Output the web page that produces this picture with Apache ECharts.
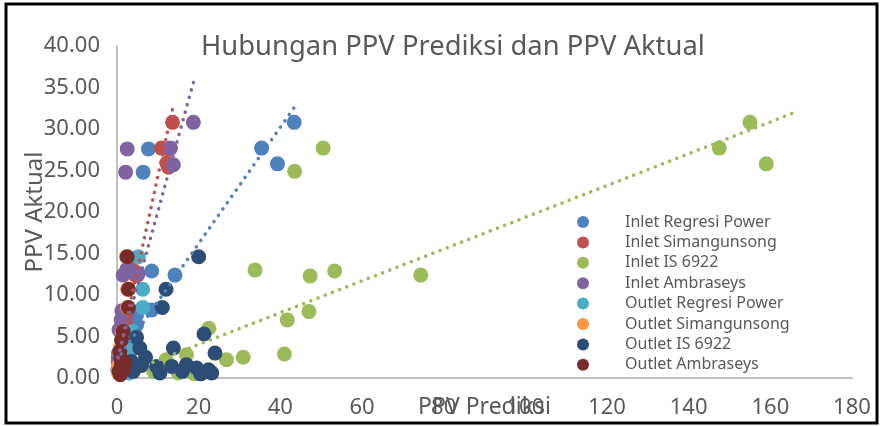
<!DOCTYPE html>
<html>
<head>
<meta charset="utf-8">
<script src="https://cdn.jsdelivr.net/npm/echarts@6/dist/echarts.min.js"></script>
<style>
html, body { margin: 0; padding: 0; background: #fff; }
#chart { width: 882px; height: 426px; }
</style>
</head>
<body>
<div id="chart"></div>
<script>
// data: [PPV prediksi, PPV aktual]
var inletRegresiPower = [[43.4,30.8],[35.4,27.7],[39.3,25.8],[7.7,27.6],[6.4,24.8],[8.5,12.9],[14.2,12.4],[8.5,8.2],[4.8,7.6],[4.8,6.4],[4.0,5.0],[3.0,3.0],[2.5,2.2],[1.5,1.2]];
var inletSimangunsong = [[13.6,30.8],[10.9,27.7],[12.2,25.9],[12.6,27.6],[12.6,25.4],[3.5,13.1],[4.5,12.4],[4.2,12.9],[5.0,12.4],[2.0,7.0],[2.5,8.1],[1.8,6.0],[1.0,2.9],[0.8,2.5],[0.6,2.0],[0.9,3.0],[0.5,1.5],[0.3,1.0]];
var inletIS6922 = [[155,30.8],[147.5,27.7],[159,25.8],[50.5,27.7],[43.5,24.9],[33.8,13.0],[47.3,12.3],[53.3,12.9],[74.4,12.4],[41.7,7.0],[47,8.0],[22.5,6.0],[41,2.9],[30.9,2.5],[26.8,2.2],[12,2.2],[9,0.8],[15,0.6],[19,0.5],[23,0.7],[17,2.8]];
var inletAmbraseys = [[18.7,30.8],[13.1,27.7],[13.8,25.7],[2.5,27.6],[2.1,24.8],[2.4,13.1],[5.2,12.6],[3.8,12.8],[1.5,12.4],[1.0,7.0],[1.2,8.1],[0.5,5.8],[0.4,2.9],[0.3,2.5],[0.3,2.0],[0.4,3.0],[0.2,1.0]];
var outletRegresiPower = [[5.2,14.6],[6.3,10.7],[6.3,8.5],[3.9,5.6],[3.0,3.6],[2.5,3.0],[2.0,1.6],[1.8,1.4],[2.2,1.2],[2.6,1.0],[1.5,0.8],[3.0,0.6]];
var outletSimangunsong = [[2.3,14.6],[2.6,10.7],[2.6,8.5],[1.3,5.5],[0.8,3.6],[0.7,3.0],[0.5,1.6],[0.5,1.4],[0.6,1.2],[0.4,1.0],[0.3,0.8],[0.4,0.6]];
var outletIS6922 = [[20,14.6],[12,10.7],[11.1,8.5],[21.3,5.3],[13.8,3.6],[24,3.0],[17,1.6],[13.4,1.4],[19.5,1.2],[22.4,1.0],[9.7,1.4],[23.2,0.6],[4.8,4.9],[5.6,3.6],[4.0,0.8],[7,2.5],[6,1.5],[16,0.8],[20.5,0.5],[10.5,0.6],[3.5,2.0]];
var outletAmbraseys = [[2.5,14.6],[2.8,10.7],[2.8,8.5],[1.5,5.6],[1.1,4.6],[0.7,3.2],[1.1,1.6],[1.5,0.9],[0.9,2.4],[2.0,1.8],[0.5,0.8],[0.8,0.4]];

// linear trendlines (start and end point)
var trendRegresiPower = [[1.0, 2.9], [43.4, 32.6]];
var trendSimangunsong = [[0.3, 2.4], [13.6, 32.4]];
var trendIS6922 = [[8.8, 1.9], [166, 32.0]];
var trendAmbraseys = [[0.2, 2.5], [18.7, 35.6]];

var seriesNames = ['Inlet Regresi Power', 'Inlet Simangunsong', 'Inlet IS 6922', 'Inlet Ambraseys',
    'Outlet Regresi Power', 'Outlet Simangunsong', 'Outlet IS 6922', 'Outlet Ambraseys'];
var seriesData = [inletRegresiPower, inletSimangunsong, inletIS6922, inletAmbraseys,
    outletRegresiPower, outletSimangunsong, outletIS6922, outletAmbraseys];
var colors = ['#4F81BD', '#C0504D', '#9BBB59', '#8064A2', '#4BACC6', '#F79646', '#2C4D75', '#772C2A'];
var trends = [trendRegresiPower, trendSimangunsong, trendIS6922, trendAmbraseys];

var textColor = '#595959';
var font = 'Noto Sans';

var series = [];
for (var i = 0; i < seriesData.length; i++) {
    series.push({
        name: seriesNames[i],
        type: 'scatter',
        symbol: 'circle',
        symbolSize: 15,
        z: 2,
        itemStyle: { color: colors[i], opacity: 1 },
        data: seriesData[i]
    });
}
// trendlines for inlet series
for (var j = 0; j < trends.length; j++) {
    series.push({
        name: 'trend' + j,
        type: 'line',
        showSymbol: false,
        silent: true,
        z: 3,
        lineStyle: { color: colors[j], width: 3.5, type: [0.1, 7.6], cap: 'round' },
        data: trends[j]
    });
}

var option = {
    backgroundColor: '#fff',
    animation: false,
    textStyle: { fontFamily: font },
    title: {
        text: 'Hubungan PPV Prediksi dan PPV Aktual',
        left: 196,
        top: 29,
        textStyle: { fontFamily: font, fontSize: 27.4, fontWeight: 'normal', color: textColor }
    },
    legend: {
        data: seriesNames,
        orient: 'vertical',
        left: 572,
        top: 209,
        icon: 'circle',
        itemWidth: 12,
        itemHeight: 12,
        itemGap: 4.4,
        textStyle: { fontFamily: font, fontSize: 16, color: textColor, lineHeight: 16, padding: [0, 0, 0, 31] }
    },
    grid: { left: 117, right: 30, top: 46, bottom: 48, outerBoundsMode: 'none' },
    xAxis: {
        type: 'value',
        min: 0, max: 180, interval: 20,
        name: 'PPV Prediksi',
        nameLocation: 'middle',
        nameGap: 18,
        nameMoveOverlap: false,
        nameTextStyle: { fontFamily: font, fontSize: 23, color: textColor },
        axisLine: { show: true, onZero: false, lineStyle: { color: '#BFBFBF', width: 2 } },
        axisTick: { show: false },
        splitLine: { show: false },
        axisLabel: { margin: 19, fontFamily: font, fontSize: 22, color: textColor }
    },
    yAxis: {
        type: 'value',
        min: 0, max: 40, interval: 5,
        name: 'PPV Aktual',
        nameLocation: 'middle',
        nameGap: 70,
        nameMoveOverlap: false,
        nameTextStyle: { fontFamily: font, fontSize: 24, color: textColor },
        axisLine: { show: true, lineStyle: { color: '#BFBFBF', width: 2 } },
        axisTick: { show: false },
        splitLine: { show: false },
        axisLabel: {
            margin: 17, fontFamily: font, fontSize: 22, color: textColor,
            formatter: function (v) { return v.toFixed(2); }
        }
    },
    graphic: [{
        type: 'rect',
        shape: { x: 6, y: 4, width: 871, height: 419 },
        style: { fill: 'none', stroke: '#000', lineWidth: 3 },
        silent: true
    }],
    series: series
};

var myChart = echarts.init(document.getElementById('chart'));
myChart.setOption(option);
</script>
</body>
</html>
